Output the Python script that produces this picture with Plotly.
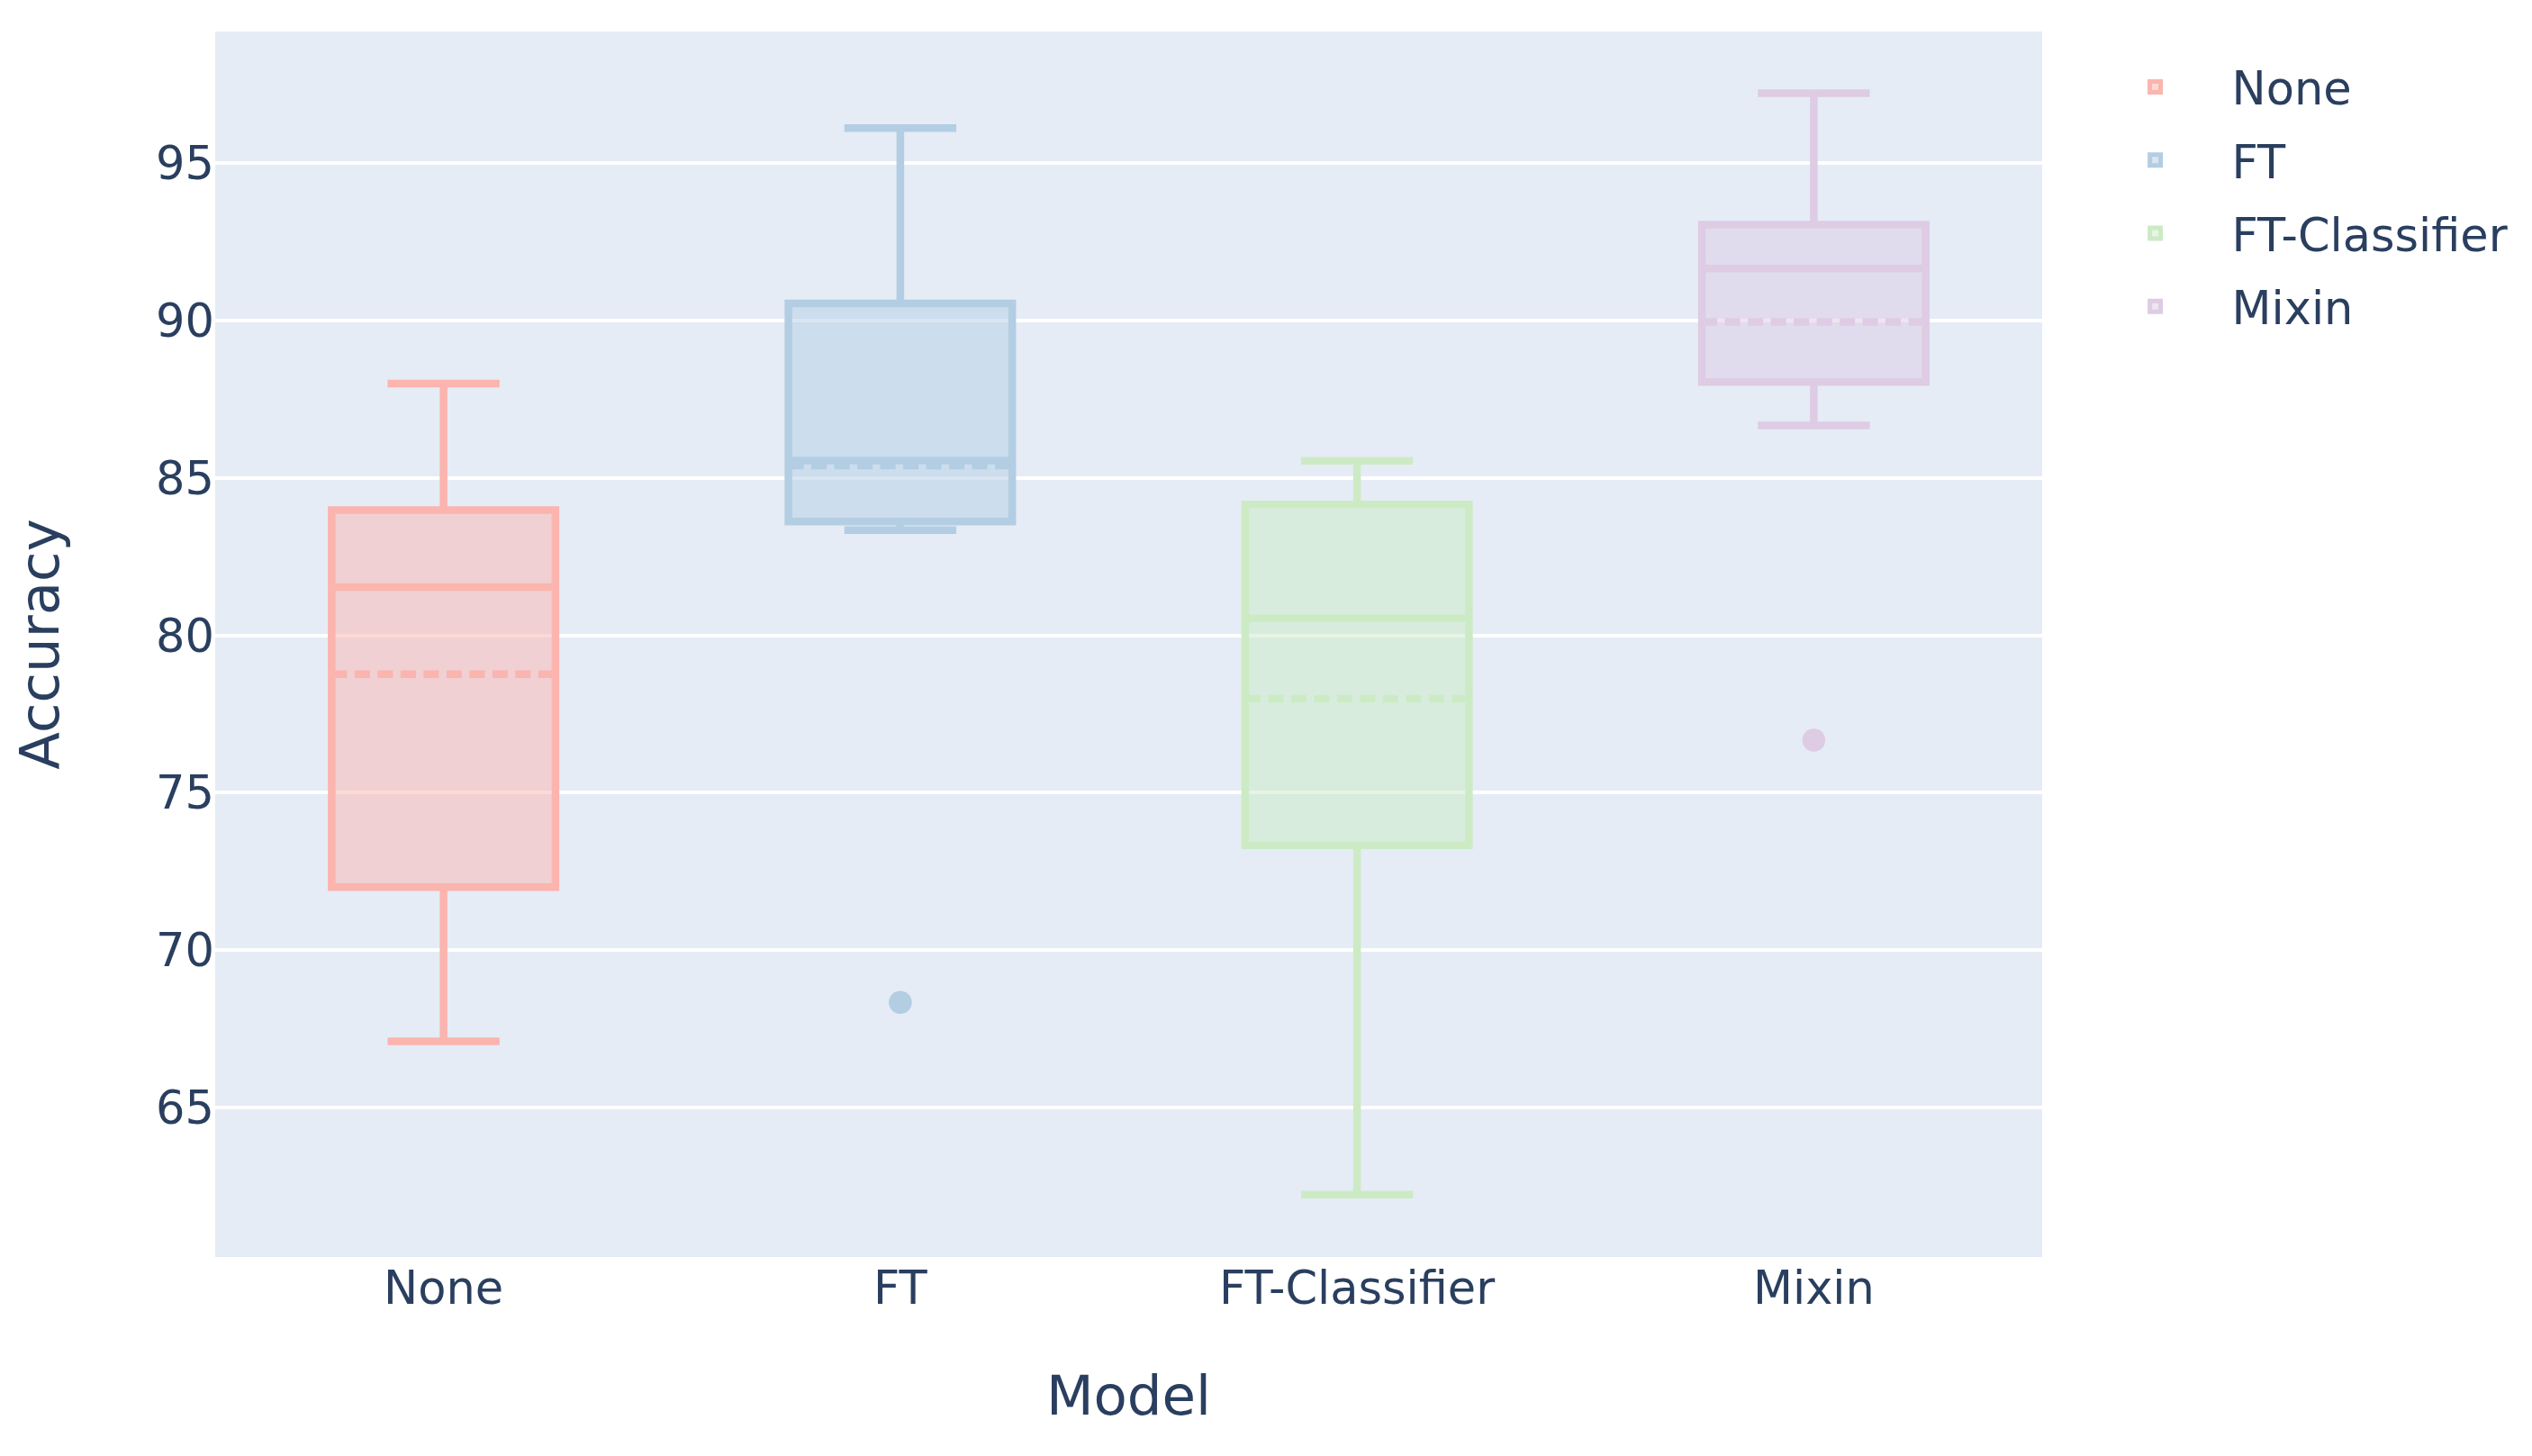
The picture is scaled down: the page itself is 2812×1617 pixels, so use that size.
import plotly.graph_objects as go

models = ["None", "FT", "FT-Classifier", "Mixin"]
colors = ["#FBB4AE", "#B3CDE3", "#CCEBC5", "#DECBE4"]
lowerfence = [67.1, 83.35, 62.23, 86.67]
q1 = [72.0, 83.62, 73.33, 88.05]
median = [81.54, 85.56, 80.54, 91.66]
mean = [78.77, 85.4, 77.99, 89.96]
q3 = [83.98, 90.55, 84.16, 93.05]
upperfence = [88.0, 96.12, 85.55, 97.23]
outlier_model = ["FT", "Mixin"]
outlier_value = [68.34, 76.67]

S = 4.25  # visual scale of the reference

fig = go.Figure()
for i, m in enumerate(models):
    fig.add_trace(go.Box(
        x=[m], q1=[q1[i]], median=[median[i]], q3=[q3[i]],
        lowerfence=[lowerfence[i]], upperfence=[upperfence[i]], mean=[mean[i]],
        boxmean=True, name=m, legendgroup=m, width=0.49,
        marker_color=colors[i], line=dict(color=colors[i], width=2 * S),
    ))
    ox = [x for x in outlier_model if x == m]
    oy = [v for x, v in zip(outlier_model, outlier_value) if x == m]
    if ox:
        fig.add_trace(go.Scatter(
            x=ox, y=oy, mode="markers",
            marker=dict(color=colors[i], size=6 * S), legendgroup=m,
            showlegend=False, hoverinfo="y",
        ))

fig.update_layout(
    template="plotly",
    font=dict(family="DejaVu Sans", size=12 * S, color="#2a3f5f"),
    boxmode="overlay",
    margin=dict(l=231, r=536, t=27, b=213, autoexpand=False),
    xaxis=dict(title=dict(text="Model", standoff=69), categoryorder="array",
               categoryarray=models, range=[-0.5, 3.5], automargin=False),
    yaxis=dict(title=dict(text="Accuracy", standoff=94), range=[60.25, 99.19], dtick=5,
               gridwidth=S, automargin=False, zeroline=False),
    legend=dict(tracegroupgap=12, itemwidth=160, x=1.02, y=0.984),
)
fig.write_html("out.html")
